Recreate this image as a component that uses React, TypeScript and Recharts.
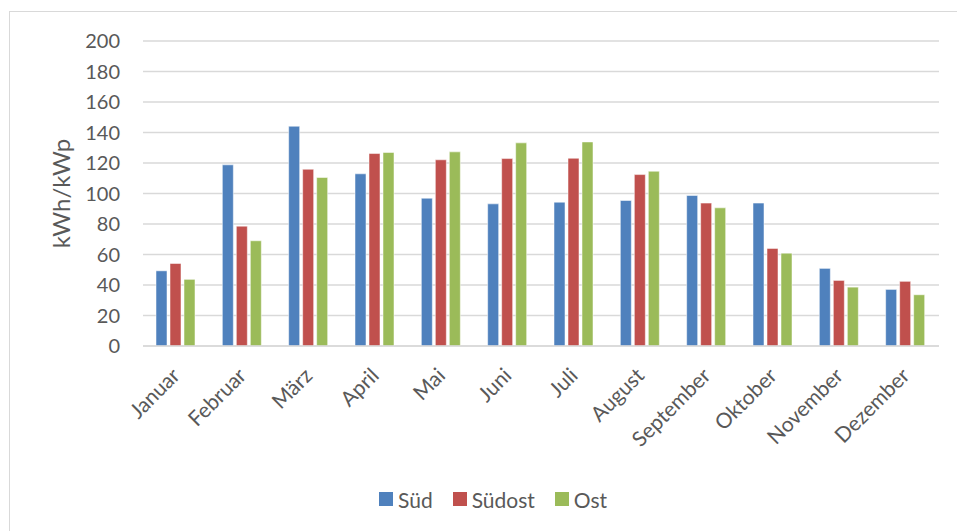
import React from "react";
import { Bar, BarChart, CartesianGrid, Legend, XAxis, YAxis } from "recharts";

const months = [
  "Januar",
  "Februar",
  "März",
  "April",
  "Mai",
  "Juni",
  "Juli",
  "August",
  "September",
  "Oktober",
  "November",
  "Dezember",
];

const sued = [49.3, 118.8, 144.1, 112.9, 96.9, 93.2, 94.3, 95.4, 98.7, 93.7, 50.9, 37.1];
const suedost = [54.1, 78.6, 115.9, 126.2, 122.1, 122.9, 123.1, 112.4, 93.7, 64.0, 43.0, 42.4];
const ost = [43.7, 69.0, 110.5, 126.9, 127.3, 133.2, 133.8, 114.6, 90.6, 60.9, 38.6, 33.6];

const yTicks = [0, 20, 40, 60, 80, 100, 120, 140, 160, 180, 200];

const series = [
  { key: "sued", name: "Süd", color: "#4F81BD" },
  { key: "suedost", name: "Südost", color: "#C0504D" },
  { key: "ost", name: "Ost", color: "#9BBB59" },
];

const data = months.map((month, i) => ({
  month,
  sued: sued[i],
  suedost: suedost[i],
  ost: ost[i],
}));

const FONT = "Lato, 'Open Sans', sans-serif";
const TEXT = "#595959";

function MonthTick(props: any) {
  const { x, y, payload } = props;
  return (
    <text
      x={x + 5}
      y={y + 31}
      transform={`rotate(-45, ${x + 5}, ${y + 31})`}
      textAnchor="end"
      fill={TEXT}
      fontSize={21}
      fontFamily={FONT}
    >
      {payload.value}
    </text>
  );
}

function LegendBox() {
  return (
    <div
      style={{
        display: "flex",
        alignItems: "center",
        height: 30,
        fontFamily: FONT,
        fontSize: 21,
        color: TEXT,
      }}
    >
      {series.map((s) => (
        <div
          key={s.key}
          style={{ display: "flex", alignItems: "center", marginRight: 20 }}
        >
          <span
            style={{
              display: "inline-block",
              width: 14,
              height: 14,
              background: s.color,
              marginRight: 5,
            }}
          />
          <span>{s.name}</span>
        </div>
      ))}
    </div>
  );
}

export default function App() {
  return (
    <div
      style={{
        position: "absolute",
        left: 0,
        top: 0,
        width: 957,
        height: 531,
        overflow: "hidden",
        background: "#fff",
      }}
    >
      <div
        style={{
          position: "absolute",
          left: 9,
          top: 11,
          width: 980,
          height: 560,
          border: "1px solid #d9d9d9",
        }}
      />
      <div style={{ position: "absolute", left: 0, top: 0 }}>
        <BarChart
          width={957}
          height={531}
          data={data}
          margin={{ top: 41, right: 18, bottom: 25, left: 0 }}
          barCategoryGap={13}
          barGap={3}
        >
          <CartesianGrid
            vertical={false}
            stroke="#d9d9d9"
            strokeWidth={1.3}
          />
          <XAxis
            dataKey="month"
            interval={0}
            height={130}
            tickLine={false}
            tickSize={0}
            tickMargin={0}
            axisLine={{ stroke: "#d9d9d9", strokeWidth: 1.3 }}
            tick={<MonthTick />}
          />
          <YAxis
            width={143}
            domain={[0, 200]}
            ticks={yTicks}
            interval={0}
            axisLine={false}
            tickLine={false}
            tickSize={0}
            tickMargin={23}
            tick={{ fill: TEXT, fontSize: 20, fontFamily: FONT }}
            label={{
              content: ({ viewBox }: any) => {
                const cx = viewBox.x + 60;
                const cy = viewBox.y + viewBox.height / 2;
                return (
                  <text
                    x={cx}
                    y={cy}
                    transform={`rotate(-90, ${cx}, ${cy})`}
                    textAnchor="middle"
                    dominantBaseline="central"
                    fill={TEXT}
                    fontSize={24}
                    fontFamily={FONT}
                  >
                    kWh/kWp
                  </text>
                );
              },
            }}
          />
          <Legend
            content={<LegendBox />}
            wrapperStyle={{ left: 379, top: 484, width: 300, height: 30 }}
          />
          {series.map((s) => (
            <Bar
              key={s.key}
              dataKey={s.key}
              name={s.name}
              fill={s.color}
              stroke="#ffffff"
              strokeOpacity={0.5}
              strokeWidth={1}
              isAnimationActive={false}
            />
          ))}
        </BarChart>
      </div>
    </div>
  );
}
